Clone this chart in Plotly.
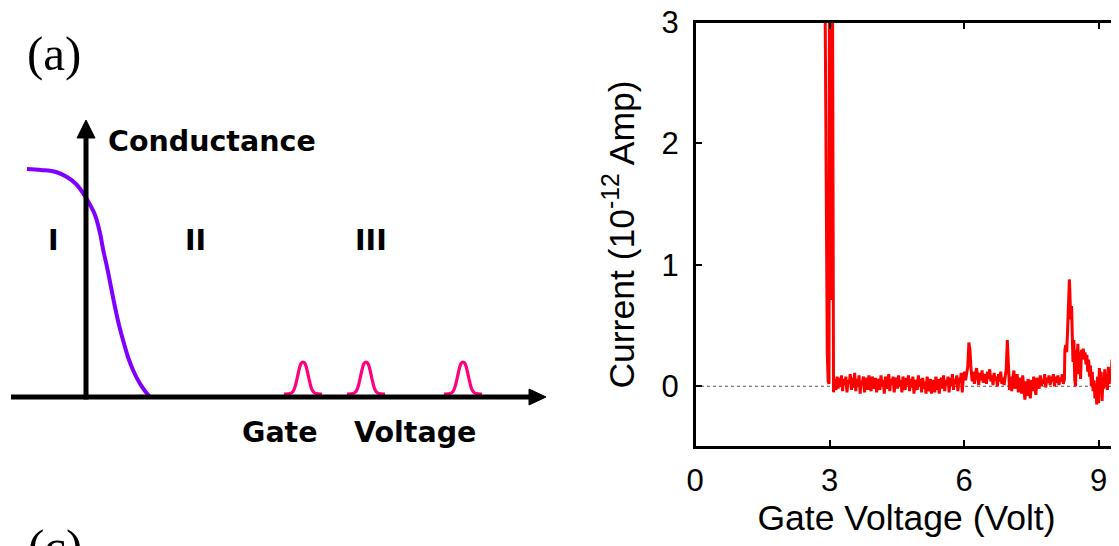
import numpy as np
import plotly.graph_objects as go

# ---------------- Right panel: measured current vs gate voltage ----------------
# onset region (values > 3 run off the top of the axis)
onset_v = [2.88, 2.90, 2.93, 2.95, 2.97, 2.99, 3.00, 3.02, 3.04, 3.06, 3.09, 3.11]
onset_i = [4.5, 3.2, 1.2, 0.27, 0.04, 0.02, 4.5, 0.71, 4.5, 4.5, -0.05, 0.06]

# noisy plateau, read on a regular grid from 3.12 V to 8.24 V
band_first_v, band_last_v = 3.12, 8.24
band_i = [
    0.04, -0.03, 0.08, -0.02, 0.07, 0.00, 0.09, -0.04, 0.06, 0.01,
    0.08, -0.05, 0.05, 0.02, 0.10, -0.03, 0.07, -0.01, 0.11, -0.04,
    0.06, 0.00, 0.09, -0.06, 0.04, 0.03, 0.08, -0.05, 0.02, 0.07,
    -0.03, 0.09, 0.01, -0.04, 0.08, 0.02, -0.02, 0.07, -0.05, 0.06,
    0.03, -0.03, 0.09, 0.00, 0.05, -0.06, 0.08, 0.02, -0.02, 0.10,
    -0.04, 0.06, 0.01, 0.08, -0.05, 0.04, 0.07, -0.02, 0.09, 0.00,
    0.05, -0.05, 0.08, 0.02, -0.03, 0.07, 0.01, 0.09, -0.04, 0.06,
    -0.01, 0.08, -0.06, 0.05, 0.03, -0.03, 0.09, 0.00, 0.06, -0.05,
    0.07, -0.02, 0.04, -0.06, 0.08, 0.01, -0.04, 0.06, -0.06, 0.05,
    0.02, -0.05, 0.08, -0.03, 0.06, -0.06, 0.04, 0.07, -0.02, 0.09,
    -0.04, 0.05, 0.01, 0.08, -0.05, 0.07, 0.00, 0.10, -0.03, 0.06,
    0.02, 0.09, -0.04, 0.07, 0.03, 0.11, -0.05, 0.08, 0.12, 0.05,
    0.10, 0.16, 0.36, 0.30, 0.14, 0.04, 0.12, 0.02, 0.09, 0.15,
    0.08, 0.01, 0.11, 0.05, 0.13, 0.03, 0.07, 0.10, 0.02, 0.12,
    0.06, 0.14, 0.04, 0.09, 0.01, 0.11, 0.05, 0.08, 0.00, 0.10,
    0.04, 0.12, 0.02, 0.07, 0.01, 0.09, 0.14, 0.38, 0.10, -0.03,
    0.08, -0.04, 0.06, 0.13, -0.02, 0.05, 0.10, -0.05, 0.07, 0.01,
    -0.06, 0.09, -0.03, -0.11, 0.04, -0.08, 0.06, 0.00, -0.10, 0.05,
    -0.04, 0.08, 0.01, -0.07, 0.07, 0.03, -0.02, 0.09, 0.00, 0.06,
    0.02, 0.10, -0.01, 0.07, 0.03, 0.09, 0.01, 0.08, 0.04, 0.10,
    0.00, 0.08, 0.03, 0.09, 0.01, 0.07, 0.04, 0.10, 0.02, 0.06,
]

# resonance region and tail
tail_v = [8.25, 8.27, 8.29, 8.31, 8.33, 8.35, 8.36, 8.38, 8.40, 8.42, 8.43, 8.45,
          8.47, 8.49, 8.50, 8.52, 8.54, 8.56, 8.58, 8.60, 8.62, 8.64, 8.66, 8.68,
          8.70, 8.72, 8.74, 8.76, 8.78, 8.80, 8.82, 8.84, 8.86, 8.88, 8.90, 8.92,
          8.94, 8.96, 8.98, 9.00, 9.02, 9.04, 9.06, 9.08, 9.10, 9.12, 9.14, 9.16,
          9.18, 9.20, 9.22, 9.24, 9.26, 9.28, 9.30]
tail_i = [0.30, 0.34, 0.28, 0.45, 0.62, 0.88, 0.80, 0.55, 0.66, 0.45, 0.20, 0.38,
          0.05, 0.00, 0.30, 0.22, 0.35, 0.10, 0.28, 0.06, 0.30, 0.25, 0.31, 0.22,
          0.28, 0.18, 0.26, 0.12, 0.22, 0.08, 0.17, 0.00, 0.12, -0.04, 0.05, -0.10,
          0.02, -0.15, 0.08, -0.14, 0.15, -0.05, 0.12, -0.12, 0.06, -0.02, 0.14, 0.00,
          0.10, -0.03, 0.16, 0.02, 0.13, 0.05, 0.22]

x_ticks = [0, 3, 6, 9]
y_ticks = [0, 1, 2, 3]

# ---------------- Left panel: schematic conductance ----------------
# schematic units (origin where the two drawn axes cross)
cond_u = [-59, -45, -30, -19, -10, -3, 3, 9, 14, 17, 21, 25, 29, 33, 37, 42, 47, 53, 59, 64]
cond_v = [228, 227, 225, 220, 213, 204, 194, 182, 164, 148, 130, 110, 90, 72, 57, 40, 27, 15, 6, 0]

peak_centers = [217, 280, 377]
peak_du = [-19, -13, -10, -8, -6, -4, -2, 0, 2, 4, 6, 8, 10, 13, 19]
peak_dv = [3, 3.5, 5.5, 10, 18, 27, 33.5, 35, 33.5, 27, 18, 10, 5.5, 3.5, 3]

region_labels = ["I", "II", "III"]
region_u = [-33, 109.5, 285]

# ---------------- Build figure ----------------
band_v = np.linspace(band_first_v, band_last_v, len(band_i))
gate_v = list(onset_v) + list(band_v) + list(tail_v)
current = list(onset_i) + list(band_i) + list(tail_i)

# the page body adds an 8 px margin, so the figure is drawn 8 px smaller and
# all layout positions are expressed relative to that offset
OFF = 8
W, H = 1119 - OFF, 546 - OFF
px = lambda sx: (sx - OFF) / W           # screen x -> paper x
py = lambda sy: 1 - (sy - OFF) / H       # screen y -> paper y

X_RANGE = [0, 9.435]
Y_RANGE = [-0.5, 3]

fig = go.Figure()

fig.add_trace(go.Scatter(x=gate_v, y=current, mode="lines",
                         line=dict(color="#ff0000", width=3),
                         xaxis="x", yaxis="y", showlegend=False, hoverinfo="skip"))
# invisible companion trace so the top / right tick axes are laid out
fig.add_trace(go.Scatter(x=gate_v[:1], y=current[:1], mode="lines",
                         line=dict(width=0), opacity=0,
                         xaxis="x3", yaxis="y3", showlegend=False, hoverinfo="skip"))

fig.add_trace(go.Scatter(x=cond_u, y=cond_v, mode="lines",
                         line=dict(color="#8000ff", width=4, shape="spline"),
                         xaxis="x2", yaxis="y2", showlegend=False, hoverinfo="skip"))
for c in peak_centers:
    fig.add_trace(go.Scatter(x=[c + d for d in peak_du], y=peak_dv, mode="lines",
                             line=dict(color="#ff0080", width=3.2, shape="spline"),
                             xaxis="x2", yaxis="y2", showlegend=False, hoverinfo="skip"))

tick_font = dict(family="Liberation Sans, Arial, sans-serif", size=31, color="black")
title_font = dict(family="Liberation Sans, Arial, sans-serif", size=35.5, color="black")

x_dom = [px(695), px(1118)]
y_dom = [py(447), py(22)]

fig.update_layout(
    width=W, height=H,
    margin=dict(l=0, r=0, t=0, b=0, autoexpand=False),
    paper_bgcolor="white", plot_bgcolor="rgba(0,0,0,0)",
    xaxis=dict(domain=x_dom, range=X_RANGE, tickvals=x_ticks,
               ticks="inside", ticklen=7, tickwidth=2, tickcolor="black",
               showline=True, linewidth=2, linecolor="black", mirror=True,
               showgrid=False, zeroline=False, tickfont=tick_font, automargin=False,
               ticklabelstandoff=5, ticklabeloverflow="allow",
               title=dict(text="Gate Voltage (Volt)", font=title_font, standoff=6)),
    yaxis=dict(domain=y_dom, range=Y_RANGE, tickvals=y_ticks,
               ticks="inside", ticklen=7, tickwidth=2, tickcolor="black",
               showline=True, linewidth=2, linecolor="black", mirror=True,
               showgrid=False, zeroline=False, tickfont=tick_font, automargin=False,
               ticklabelstandoff=8, ticklabeloverflow="allow",
               title=dict(text="Current (10<sup>-12</sup> Amp)", font=title_font, standoff=16)),
    # top and right tick marks (no labels) on a transparent twin subplot
    xaxis3=dict(domain=x_dom, range=X_RANGE, tickvals=x_ticks, side="top", anchor="y3",
                ticks="inside", ticklen=7, tickwidth=2, tickcolor="black",
                showticklabels=False, showline=False, showgrid=False, zeroline=False,
                automargin=False),
    yaxis3=dict(domain=y_dom, range=Y_RANGE, tickvals=y_ticks, side="right", anchor="x3",
                ticks="inside", ticklen=7, tickwidth=2, tickcolor="black",
                showticklabels=False, showline=False, showgrid=False, zeroline=False,
                automargin=False),
    xaxis2=dict(domain=[0, px(560)], range=[OFF - 86, 560 - 86], visible=False, anchor="y2"),
    yaxis2=dict(domain=[0, 1], range=[397 - 546, 397 - OFF], visible=False, anchor="x2"),
)

# plot frame (drawn explicitly so the top and right edges always show)
fig.add_shape(type="rect", xref="x domain", yref="y domain", x0=0, x1=1, y0=0, y1=1,
              line=dict(color="black", width=2), fillcolor="rgba(0,0,0,0)", layer="above")

# zero reference (dotted)
fig.add_shape(type="line", xref="x domain", yref="y", x0=0, x1=1, y0=0, y1=0,
              line=dict(color="#555555", width=1, dash="dot"), layer="below")

# schematic axes with arrowheads
fig.add_shape(type="line", xref="x2", yref="y2", x0=-75, x1=446, y0=0, y1=0,
              line=dict(color="black", width=5), layer="above")
fig.add_shape(type="path", xref="x2", yref="y2", path="M 443 8 L 460 0 L 443 -8 Z",
              fillcolor="black", line=dict(color="black", width=1), layer="above")
fig.add_shape(type="line", xref="x2", yref="y2", x0=0, x1=0, y0=-2.5, y1=262,
              line=dict(color="black", width=5), layer="above")
fig.add_shape(type="path", xref="x2", yref="y2", path="M -9 259 L 0 277 L 9 259 Z",
              fillcolor="black", line=dict(color="black", width=1), layer="above")

bold = dict(family="DejaVu Sans, Verdana, sans-serif", size=28.5, color="black")
bold_text = lambda s: "<b>" + s + "</b>"

fig.add_annotation(x=20, y=256, xref="x2", yref="y2", text=bold_text("Conductance"),
                   showarrow=False, xanchor="left", yanchor="middle", font=bold)
for lab, u in zip(region_labels, region_u):
    fig.add_annotation(x=u, y=157, xref="x2", yref="y2", text=bold_text(lab),
                       showarrow=False, xanchor="center", yanchor="middle", font=bold)
fig.add_annotation(x=194, y=-35, xref="x2", yref="y2", text=bold_text("Gate"),
                   showarrow=False, xanchor="center", yanchor="middle", font=bold)
fig.add_annotation(x=329, y=-35, xref="x2", yref="y2", text=bold_text("Voltage"),
                   showarrow=False, xanchor="center", yanchor="middle", font=bold)

serif = dict(family="Liberation Serif, Times New Roman, serif", size=49, color="black")
fig.add_annotation(x=px(54), y=py(54), xref="paper", yref="paper", text="(a)",
                   showarrow=False, xanchor="center", yanchor="middle", font=serif)
fig.add_annotation(x=px(55), y=py(546), xref="paper", yref="paper", text="(c)",
                   showarrow=False, xanchor="center", yanchor="middle", font=serif)

fig.write_html("out.html")
